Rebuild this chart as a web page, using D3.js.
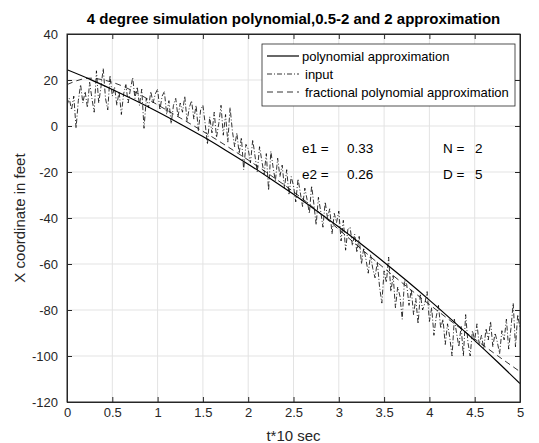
<!DOCTYPE html>
<html>
<head>
<meta charset="utf-8">
<script src="https://cdn.jsdelivr.net/npm/d3@7"></script>
<style>
html,body{margin:0;padding:0;background:#fff;}
svg{display:block;font-family:"Liberation Sans",Arial,Helvetica,sans-serif;}
</style>
</head>
<body>
<svg id="chart" width="539" height="443"></svg>
<script>
// ---- data ----
const xTicks = [0, 0.5, 1, 1.5, 2, 2.5, 3, 3.5, 4, 4.5, 5];
const yTicks = [40, 20, 0, -20, -40, -60, -80, -100, -120];

// polynomial approximation, sampled every 0.25
const polyT = [0,0.25,0.5,0.75,1,1.25,1.5,1.75,2,2.25,2.5,2.75,3,3.25,3.5,3.75,4,4.25,4.5,4.75,5];
const polyY = [24.5,20.4,15.9,11.2,6.2,0.9,-4.6,-10.5,-16.6,-23.0,-29.7,-36.7,-43.9,-51.4,-59.2,-67.3,-75.7,-84.4,-93.3,-102.5,-112];

// fractional polynomial approximation, sampled every 0.25
const fracY = [18,20.8,19.0,14.8,9.2,3.5,-2.3,-8.4,-14.8,-21.5,-28.6,-36.5,-45,-53.5,-61.8,-69.8,-77.6,-85.2,-92.6,-99.8,-106.8];

// input signal, sampled every 0.025 (t = 0 .. 5)
const inputY = [
  9,12,7,13,-1,11,18,10,
  15,8,19,12,6,24,10,17,
  25,12,7,22,13,17,9,15,
  5,14,18,10,16,21,12,17,
  9,16,-1,12,8,15,10,14,
  16,7,13,15,5,11,1,9,
  12,4,10,6,13,2,8,11,
  3,9,-2,7,9,1,-8,4,
  -3,6,-5,1,9,-4,5,-7,
  8,-2,-9,-3,-12,-5,-19,-8,
  -10,-16,-6,-13,-20,-9,-15,-21,
  -12,-28,-11,-18,-24,-14,-22,-17,
  -27,-19,-30,-22,-26,-33,-23,-29,
  -35,-27,-32,-38,-26,-34,-43,-31,
  -37,-44,-33,-40,-36,-47,-38,-42,
  -37,-50,-41,-54,-45,-44,-52,-47,
  -55,-48,-60,-53,-58,-64,-56,-62,
  -66,-59,-70,-77,-63,-68,-57,-72,
  -65,-79,-70,-74,-84,-67,-69,-78,
  -71,-82,-75,-86,-73,-80,-77,-72,
  -85,-79,-91,-83,-78,-88,-84,-95,
  -86,-92,-100,-84,-90,-96,-87,-100,
  -82,-94,-100,-89,-93,-86,-95,-91,
  -97,-88,-93,-85,-96,-90,-94,-99,
  -89,-93,-84,-97,-88,-77,-96,-82,
  -88
];
const inputStep = 0.025;

const legendLabels = ["polynomial approximation", "input", "fractional polynomial approximation"];
const annotations = [["e1 =", "0.33", "N =", "2"], ["e2 =", "0.26", "D =", "5"]];

// ---- layout ----
const svg = d3.select("#chart");
const L = 67, R = 520, T = 34, B = 402;
const x = d3.scaleLinear().domain([0, 5]).range([L, R]);
const y = d3.scaleLinear().domain([-120, 40]).range([B, T]);
const axisColor = "#262626";
const fmt = d => String(d);

svg.append("rect").attr("x", 0).attr("y", 0).attr("width", 539).attr("height", 443).attr("fill", "#fff");

// grid
const grid = svg.append("g").attr("stroke", "#e3e3e3").attr("stroke-width", 1);
xTicks.slice(1, -1).forEach(v => grid.append("line").attr("x1", x(v)).attr("x2", x(v)).attr("y1", T).attr("y2", B));
yTicks.slice(1, -1).forEach(v => grid.append("line").attr("x1", L).attr("x2", R).attr("y1", y(v)).attr("y2", y(v)));

// clip
svg.append("clipPath").attr("id", "clip").append("rect").attr("x", L).attr("y", T).attr("width", R - L).attr("height", B - T);
const plot = svg.append("g").attr("clip-path", "url(#clip)");

const line = d3.line().x(d => x(d[0])).y(d => y(d[1]));
const smooth = d3.line().curve(d3.curveMonotoneX).x(d => x(d[0])).y(d => y(d[1]));

plot.append("path")
  .datum(inputY.map((v, i) => [i * inputStep, v]))
  .attr("d", line).attr("fill", "none").attr("stroke", "#000").attr("stroke-width", 0.8)
  .attr("stroke-dasharray", "5,2,1,2");

plot.append("path")
  .datum(polyT.map((t, i) => [t, fracY[i]]))
  .attr("d", smooth).attr("fill", "none").attr("stroke", "#000").attr("stroke-width", 0.8)
  .attr("stroke-dasharray", "6,4");

plot.append("path")
  .datum(polyT.map((t, i) => [t, polyY[i]]))
  .attr("d", smooth).attr("fill", "none").attr("stroke", "#000").attr("stroke-width", 1.2);

// axes (ticks inside on all four sides)
const fontSize = 13;
const gB = svg.append("g").attr("transform", `translate(0,${B})`)
  .call(d3.axisBottom(x).tickValues(xTicks).tickFormat(fmt).tickSizeInner(-5).tickSizeOuter(0).tickPadding(6));
const gT = svg.append("g").attr("transform", `translate(0,${T})`)
  .call(d3.axisTop(x).tickValues(xTicks).tickFormat("").tickSizeInner(-5).tickSizeOuter(0));
const gL = svg.append("g").attr("transform", `translate(${L},0)`)
  .call(d3.axisLeft(y).tickValues(yTicks).tickFormat(fmt).tickSizeInner(-5).tickSizeOuter(0).tickPadding(9));
const gR = svg.append("g").attr("transform", `translate(${R},0)`)
  .call(d3.axisRight(y).tickValues(yTicks).tickFormat("").tickSizeInner(-5).tickSizeOuter(0));
[gB, gT, gL, gR].forEach(g => {
  g.selectAll(".domain").attr("stroke", axisColor).attr("stroke-width", 1);
  g.selectAll(".tick line").attr("stroke", axisColor).attr("stroke-width", 1);
  g.selectAll("text").attr("fill", axisColor).attr("font-size", fontSize)
    .attr("font-family", "Liberation Sans, Arial, sans-serif");
});
svg.append("rect").attr("x", L).attr("y", T).attr("width", R - L).attr("height", B - T)
  .attr("fill", "none").attr("stroke", axisColor).attr("stroke-width", 1);

// title & labels
svg.append("text").attr("x", (L + R) / 2).attr("y", 24).attr("text-anchor", "middle")
  .attr("font-size", 15).attr("font-weight", "bold").attr("fill", "#000")
  .text("4 degree simulation polynomial,0.5-2 and 2 approximation");
svg.append("text").attr("x", (L + R) / 2).attr("y", 441).attr("text-anchor", "middle")
  .attr("font-size", 15).attr("fill", axisColor).text("t*10 sec");
svg.append("text").attr("transform", `translate(25,${(T + B) / 2}) rotate(-90)`).attr("text-anchor", "middle")
  .attr("font-size", 15).attr("fill", axisColor).text("X coordinate in feet");

// legend
const lg = svg.append("g");
lg.append("rect").attr("x", 262).attr("y", 44).attr("width", 253).attr("height", 62)
  .attr("fill", "#fff").attr("stroke", axisColor).attr("stroke-width", 0.8);
const styles = [{dash: null, w: 1.2}, {dash: "5,2,1,2", w: 0.8}, {dash: "6,4", w: 0.8}];
legendLabels.forEach((lab, i) => {
  const yy = 56 + i * 18;
  const ln = lg.append("line").attr("x1", 267).attr("x2", 299).attr("y1", yy).attr("y2", yy)
    .attr("stroke", "#000").attr("stroke-width", styles[i].w);
  if (styles[i].dash) ln.attr("stroke-dasharray", styles[i].dash);
  lg.append("text").attr("x", i === 0 ? 302 : 305).attr("y", yy + 4.5).attr("font-size", 13)
    .attr("fill", "#000").text(lab);
});

// annotations
const colX = [302, 347, 443, 475];
annotations.forEach((row, r) => {
  row.forEach((txt, c) => {
    svg.append("text").attr("x", colX[c]).attr("y", 153 + r * 26).attr("font-size", 13.5)
      .attr("fill", "#000").text(txt);
  });
});
</script>
</body>
</html>
